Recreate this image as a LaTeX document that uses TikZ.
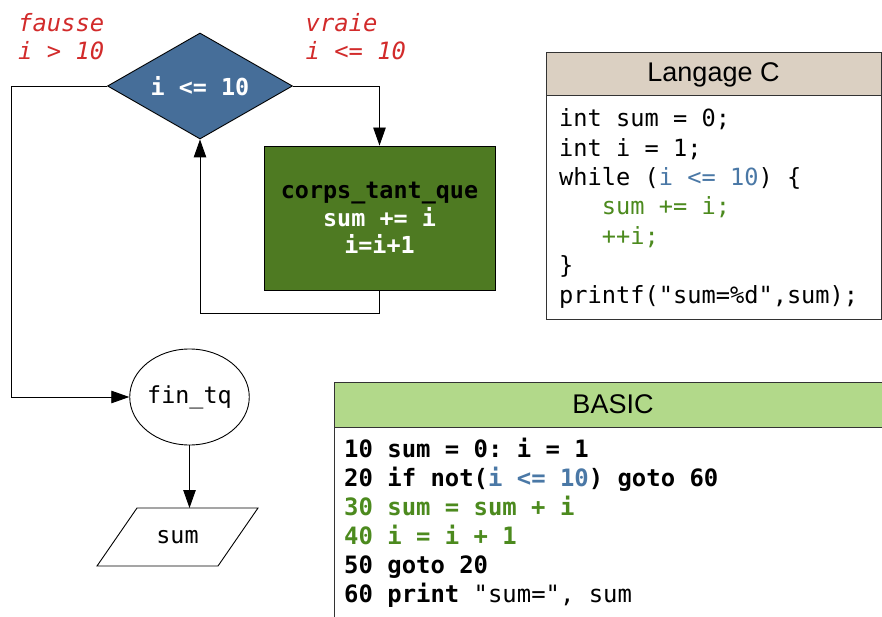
\documentclass[tikz,border=0pt]{standalone}
\usepackage{fontspec}
\setmainfont{Liberation Sans}
\setmonofont{DejaVu Sans Mono}
\usetikzlibrary{shapes.geometric,arrows.meta}
\definecolor{dblue}{HTML}{466E99}
\definecolor{dgreen}{HTML}{4E7A22}
\definecolor{cblue}{HTML}{4A78A6}
\definecolor{cgreen}{HTML}{4C8A1E}
\definecolor{lred}{HTML}{D22B2B}
\definecolor{hbeige}{HTML}{DBD0C2}
\definecolor{hgreen}{HTML}{B2D98A}
\definecolor{bord}{HTML}{333333}
\begin{document}
\begin{tikzpicture}[x=1pt,y=-1pt,
  conn/.style={draw=black, line width=0.9pt},
  arr/.style={conn,-{Triangle[length=18pt,width=12.5pt]}},
  flowfont/.style={font=\fontsize{23.4}{27.5}\selectfont\ttfamily},
  decision/.style={diamond, aspect=1.75, draw=black, line width=0.9pt, fill=dblue, text=white,
     minimum width=185pt, minimum height=106pt, inner sep=0pt, font=\fontsize{23.4}{27.5}\selectfont\ttfamily\bfseries},
  process/.style={rectangle, draw=black, line width=0.9pt, fill=dgreen, align=center,
     minimum width=231pt, minimum height=144pt, inner sep=0pt, font=\fontsize{23.4}{27.5}\selectfont\ttfamily\bfseries},
  terminal/.style={ellipse, draw=black, line width=0.9pt, minimum width=115pt, minimum height=96pt, inner sep=0pt, flowfont},
  iotext/.style={inner sep=0pt, flowfont},
  lbl/.style={anchor=base west, inner sep=0pt, text=lred, font=\fontsize{23.8}{27.5}\selectfont\ttfamily\itshape},
  hdr/.style={rectangle, draw=bord, line width=1pt, inner sep=0pt, font=\fontsize{27}{30}\selectfont},
  boxbody/.style={rectangle, draw=bord, line width=1pt, fill=white, inner sep=0pt},
  ccode/.style={anchor=base west, inner sep=0pt, font=\fontsize{23.65}{28}\selectfont\ttfamily},
  bcode/.style={anchor=base west, inner sep=0pt, font=\fontsize{23.9}{28}\selectfont\ttfamily\bfseries}
]
\clip (0,0) rectangle (882,617);
\fill[white] (0,0) rectangle (882,617);

% flowchart
\node[decision] (cond) at (200,86) {i <= 10};
\node[process] (body) at (379.5,218) {\textcolor{black}{corps\_tant\_que}\\\textcolor{white}{sum += i}\\\textcolor{white}{i=i+1}};
\node[terminal] (fin) at (189.5,397) {fin\_tq};
\node[iotext] (out) at (177.5,537) {sum};
\coordinate (outtop) at (189.5,508);
\draw[conn] (137,508) -- (258,508) -- (218,566) -- (97,566) -- cycle;

\node[lbl] (lf1) at (18,32) {fausse};
\node[lbl] (lf2) at (18,60) {i > 10};
\node[lbl] (lv1) at (305.5,32) {vraie};
\node[lbl] (lv2) at (305.5,60) {i <= 10};

\draw[arr] (cond.east) -| (body.north);
\draw[arr] (body.south) -- ++(0,23) -| (cond.south);
\draw[arr] (cond.west) -- ++(-96,0) |- (fin.west);
\draw[arr] (fin.south) -- (outtop);

% C box
\node[boxbody, minimum width=335pt, minimum height=223pt] (cbody) at (713.5,207.5) {};
\node[hdr, fill=hbeige, minimum width=335pt, minimum height=43pt] (chead) at (713.5,74.5) {Langage C};
\node[ccode] (c1) at (559,127) {int sum = 0;};
\node[ccode] (c2) at (559,156.3) {int i = 1;};
\node[ccode] (c3) at (559,185.6) {while (\textcolor{cblue}{i <= 10}) \{};
\node[ccode, text=cgreen] (c4) at (601.7,215) {sum += i;};
\node[ccode, text=cgreen] (c5) at (601.7,244.2) {++i;};
\node[ccode] (c6) at (559,273.5) {\}};
\node[ccode] (c7) at (559,303) {printf("sum=\%d",sum);};

% BASIC box
\node[boxbody, minimum width=558pt, minimum height=213pt] (bbody) at (613,533.5) {};
\node[hdr, fill=hgreen, minimum width=558pt, minimum height=45pt] (bhead) at (613,404.5) {BASIC};
\node[bcode] (b1) at (344,457) {10 sum = 0: i = 1};
\node[bcode] (b2) at (344,486) {20 if not(\textcolor{cblue}{i <= 10}) goto 60};
\node[bcode, text=cgreen] (b3) at (344,515) {30 sum = sum + i};
\node[bcode, text=cgreen] (b4) at (344,544) {40 i = i + 1};
\node[bcode] (b5) at (344,573) {50 goto 20};
\node[bcode] (b6) at (344,602) {60 print \textmd{"sum=", sum}};
\end{tikzpicture}
\end{document}
